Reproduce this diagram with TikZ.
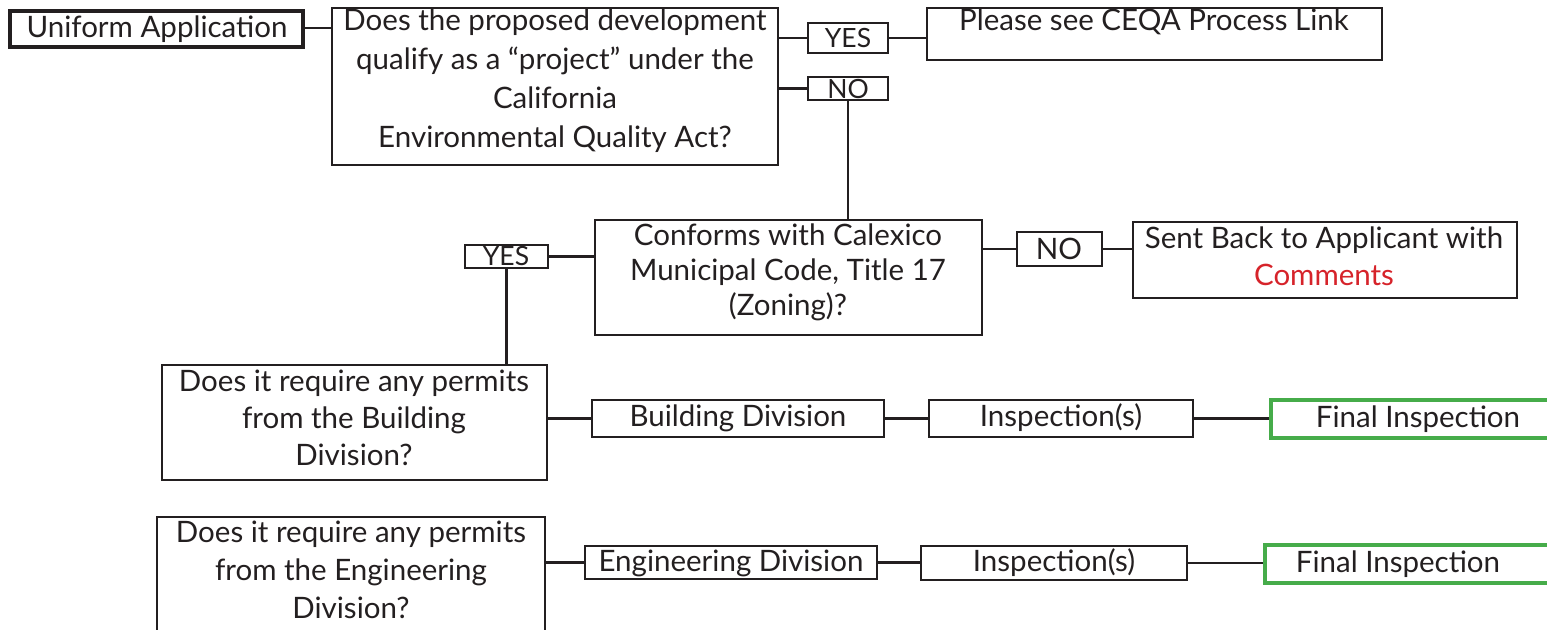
\documentclass[tikz,border=0pt]{standalone}
\usepackage{fontspec}
\setmainfont{Lato}
\usetikzlibrary{fit}
\definecolor{ink}{RGB}{35,31,32}
\definecolor{grn}{RGB}{70,172,74}
\definecolor{redc}{RGB}{214,35,42}
\tikzset{
  box/.style={draw=ink, line width=2pt, inner sep=0pt, rectangle},
  thickbox/.style={draw=ink, line width=4.5pt, inner sep=0pt, rectangle},
  greenbox/.style={draw=grn, line width=4pt, inner sep=0pt, rectangle},
  txt/.style={text=ink, align=center, inner sep=0pt, font=\fontsize{29.5}{37}\selectfont},
  small/.style={txt, font=\fontsize{26.5}{30}\selectfont},
  conn/.style={draw=ink, line width=2.2pt},
}
\begin{document}
\begin{tikzpicture}[x=1pt,y=-1pt]
\useasboundingbox (0,0) rectangle (1547,629);
% boxes
\node[thickbox, fit={(10,11) (303,47)}] (ua) {};
\node[box, fit={(332,8) (778,165)}] (q1) {};
\node[box, fit={(808,23) (888,53)}] (yes) {};
\node[box, fit={(808,77) (888,100)}] (no) {};
\node[box, fit={(927,8) (1382,60)}] (ceqa) {};
\node[box, fit={(595,220) (982,335)}] (conf) {};
\node[box, fit={(465,245) (548,268)}] (yes2) {};
\node[box, fit={(1017,232) (1102,266)}] (no2) {};
\node[box, fit={(1133,222) (1517,298)}] (sent) {};
\node[box, fit={(162,365) (547,480)}] (bq) {};
\node[box, fit={(592,400) (884,437)}] (bd) {};
\node[box, fit={(929,400) (1193,437)}] (insp1) {};
\node[greenbox, fit={(1271,400) (1575,438)}] (fin1) {};
\node[box, fit={(157,517) (545,645)}] (eq) {};
\node[box, fit={(585,546) (877,579)}] (ed) {};
\node[box, fit={(921,546) (1187,580)}] (insp2) {};
\node[greenbox, fit={(1265,545) (1575,583)}] (fin2) {};
% texts
\node[txt] (uat) at (157,29) {Uniform Application};
\node[txt, font=\fontsize{29.5}{39}\selectfont] (q1t) at (555,81) {Does the proposed development\\qualify as a “project” under the\\California\\Environmental Quality Act?};
\node[small] (yest) at (848,38) {YES};
\node[small] (not) at (848,88.5) {NO};
\node[txt] (ceqat) at (1154,22) {Please see CEQA Process Link};
\node[txt, font=\fontsize{29.5}{35}\selectfont] (conft) at (788,272) {Conforms with Calexico\\Municipal Code, Title 17\\(Zoning)?};
\node[small] (yes2t) at (506,256.5) {YES};
\node[txt] (no2t) at (1059,249) {NO};
\node[txt] (sentt) at (1324,256) {Sent Back to Applicant with\\\textcolor{redc}{Comments}};
\node[txt] (bqt) at (354,418) {Does it require any permits\\from the Building\\Division?};
\node[txt] (bdt) at (738,418) {Building Division};
\node[txt] (insp1t) at (1061,418) {Inspection(s)};
\node[txt] (fin1t) at (1418,419) {Final Inspection};
\node[txt, font=\fontsize{29.5}{38}\selectfont] (eqt) at (351,570) {Does it require any permits\\from the Engineering\\Division?};
\node[txt] (edt) at (731,563) {Engineering Division};
\node[txt] (insp2t) at (1054,563) {Inspection(s)};
\node[txt] (fin2t) at (1398,564) {Final Inspection};
% connectors
\draw[conn] (ua.east |- 0,28) -- (q1.west |- 0,28);
\draw[conn] (yes.west -| q1.east) -- (yes.west);
\draw[conn] (yes.east) -- (yes.east -| ceqa.west);
\draw[conn] (no.west -| q1.east) -- (no.west);
\draw[conn] (no.south) -- (no.south |- conf.north);
\draw[conn] (yes2.east) -- (yes2.east -| conf.west);
\draw[conn] (yes2.south) -- (yes2.south |- bq.north);
\draw[conn] (no2.west -| conf.east) -- (no2.west);
\draw[conn] (no2.east) -- (no2.east -| sent.west);
\draw[conn] (bd.west -| bq.east) -- (bd.west);
\draw[conn] (bd.east) -- (bd.east -| insp1.west);
\draw[conn] (insp1.east) -- (insp1.east -| fin1.west);
\draw[conn] (ed.west -| eq.east) -- (ed.west);
\draw[conn] (ed.east) -- (ed.east -| insp2.west);
\draw[conn] (insp2.east) -- (insp2.east -| fin2.west);
\end{tikzpicture}
\end{document}
